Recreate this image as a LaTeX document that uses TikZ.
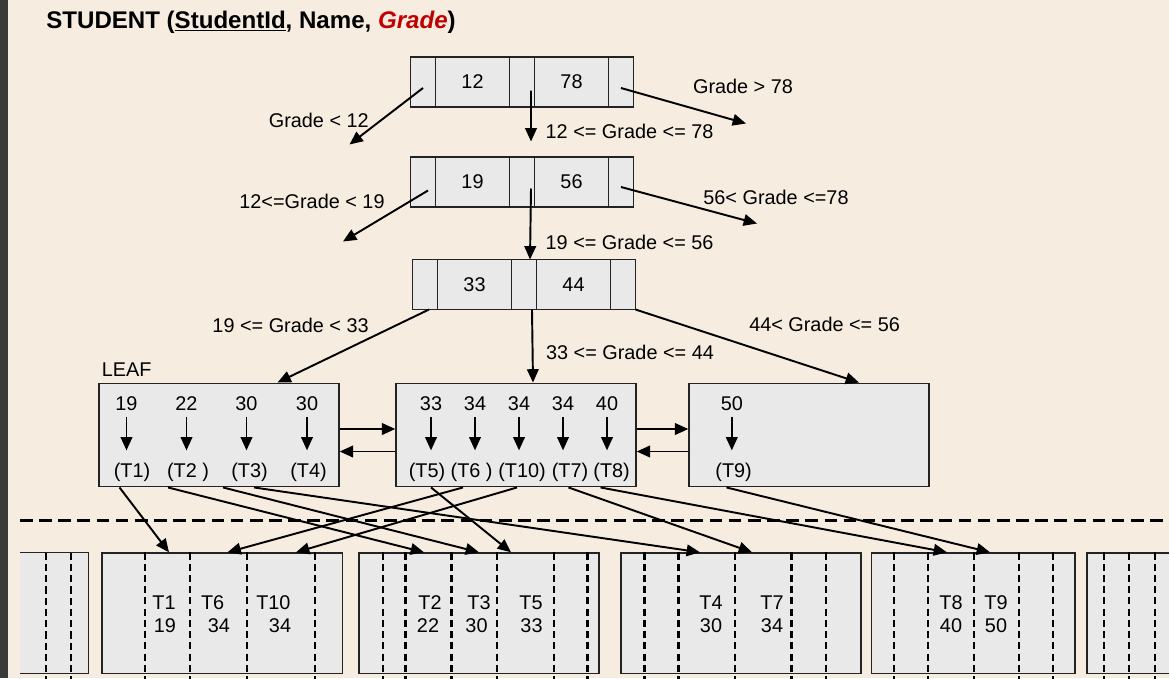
\documentclass[tikz,border=0pt]{standalone}
\usepackage{fontspec}
\setmainfont{Liberation Sans}
\usepackage{xcolor}
\usepackage{tikz}
\usetikzlibrary{arrows.meta, positioning, calc}

\definecolor{bgbeige}{RGB}{246,237,224}
\definecolor{boxgray}{RGB}{233,233,233}
\definecolor{edgegray}{RGB}{35,35,35}
\definecolor{stripgray}{RGB}{58,58,58}
\definecolor{gradered}{RGB}{192,0,0}

\begin{document}
\begin{tikzpicture}[
    font=\fontsize{11.3}{13.5}\selectfont,
    ptrcell/.style={
        rectangle,
        minimum width=0.5cm,    minimum height=1.0cm,
        draw=edgegray,
        line width=0.8pt,
        fill=boxgray,
        inner sep=0pt, outer sep=0pt
    },
    keycell/.style={ptrcell, minimum width=1.48cm},
    leafbox/.style={
        rectangle,
        minimum width=4.8cm,    minimum height=2.07cm,
        draw=edgegray,
        line width=0.8pt,
        fill=boxgray,
        inner sep=0pt
    },
    pagebox/.style={
        rectangle,
        minimum height=2.406cm,
        fill=boxgray,
        inner sep=0pt
    },
    keytext/.style={inner sep=0pt},
    treearrow/.style={line width=1.1pt, -{Triangle[length=7.6pt,width=6.6pt]}},
    leafarrow/.style={treearrow, shorten <=0.13cm, shorten >=0.25cm},
    slot/.style={line width=1.3pt, black, dash pattern=on 4.1pt off 2.3pt},
    separator/.style={line width=1.7pt, dash pattern=on 7.2pt off 3.7pt}
]

\useasboundingbox (0,0) rectangle (23.38,-13.56);
\fill[bgbeige] (0,0) rectangle (23.38,-13.56);
\fill[stripgray] (0,0) rectangle (0.16,-13.56);

\node[anchor=base west, inner sep=0pt, font=\fontsize{13.7}{16}\selectfont\bfseries] (title) at (0.92,-0.56)
    {STUDENT (\underline{StudentId}, Name, \textcolor{gradered}{\itshape Grade})};

% internal nodes
\node[ptrcell] (n1p0) at (8.46,-1.64) {};
\node[keycell, right=0pt of n1p0] (n1k1) {12};
\node[ptrcell, right=0pt of n1k1] (n1p1) {};
\node[keycell, right=0pt of n1p1] (n1k2) {78};
\node[ptrcell, right=0pt of n1k2] (n1p2) {};

\node[ptrcell] (n2p0) at (8.46,-3.64) {};
\node[keycell, right=0pt of n2p0] (n2k1) {19};
\node[ptrcell, right=0pt of n2k1] (n2p1) {};
\node[keycell, right=0pt of n2p1] (n2k2) {56};
\node[ptrcell, right=0pt of n2k2] (n2p2) {};

\node[ptrcell] (n3p0) at (8.50,-5.69) {};
\node[keycell, right=0pt of n3p0] (n3k1) {33};
\node[ptrcell, right=0pt of n3k1] (n3p1) {};
\node[keycell, right=0pt of n3p1] (n3k2) {44};
\node[ptrcell, right=0pt of n3k2] (n3p2) {};

\coordinate (lo1) at (6.99,-2.89);
\coordinate (mid1) at (10.62,-2.83);
\coordinate (hi1) at (14.92,-2.47);
\coordinate (lo2) at (6.86,-4.83);
\coordinate (hi2) at (15.14,-4.47);

\draw[treearrow] ([yshift=-0.12cm]n1p0.center) -- (lo1);
\draw[treearrow] ([xshift=0.18cm,yshift=-0.17cm]n1p1.center) -- (mid1);
\draw[treearrow] ([yshift=-0.12cm]n1p2.center) -- (hi1);

\node (cond11) at (6.376,-2.414) {Grade < 12};
\node (cond12) at (12.592,-2.634) {12 <= Grade <= 78};
\node (cond13) at (14.86,-1.734) {Grade > 78};

\draw[treearrow] ([xshift=0.1cm,yshift=-0.17cm]n2p0.center) -- (lo2);
\draw[treearrow] ([xshift=0.18cm,yshift=-0.13cm]n2p1.center) -- ([xshift=0.12cm]n3p1.north);
\draw[treearrow] ([yshift=-0.1cm]n2p2.center) -- (hi2);

\node (cond21) at (6.24,-4.034) {12<=Grade < 19};
\node (cond22) at (12.592,-4.854) {19 <= Grade <= 56};
\node (cond23) at (15.52,-3.94) {56< Grade <=78};

% leaves
\node[anchor=center] (leaflbl) at (2.532,-7.386) {LEAF};
\node[leafbox] (leafa) at (4.38,-8.70) {};
\node[leafbox] (leafb) at (10.32,-8.70) {};
\node[leafbox] (leafc) at (16.18,-8.70) {};

\draw[treearrow] ([xshift=0.08cm]n3p0.south) -- ([xshift=1.17cm]leafa.north);
\draw[treearrow] ([xshift=0.16cm]n3p1.south) -- ([xshift=0.34cm]leafb.north);
\draw[treearrow] (n3p2.south east) -- ([xshift=1.0cm]leafc.north);

\node (cond31) at (5.812,-6.50) {19 <= Grade < 33};
\node (cond32) at (12.60,-7.054) {33 <= Grade <= 44};
\node (cond33) at (16.492,-6.486) {44< Grade <= 56};

\node[keytext] (ka1) at (2.53,-8.07) {19};
\node[keytext] (ka2) at (3.73,-8.07) {22};
\node[keytext] (ka3) at (4.93,-8.07) {30};
\node[keytext] (ka4) at (6.14,-8.07) {30};
\node[keytext] (ta1) at (2.64,-9.45) {(T1)};
\node[keytext] (ta2) at (3.76,-9.45) {(T2 )};
\node[keytext] (ta3) at (4.99,-9.45) {(T3)};
\node[keytext] (ta4) at (6.17,-9.45) {(T4)};

\node[keytext] (kb1) at (8.62,-8.07) {33};
\node[keytext] (kb2) at (9.50,-8.07) {34};
\node[keytext] (kb3) at (10.38,-8.07) {34};
\node[keytext] (kb4) at (11.26,-8.07) {34};
\node[keytext] (kb5) at (12.14,-8.07) {40};
\node[keytext] (tb1) at (8.54,-9.45) {(T5)};
\node[keytext] (tb2) at (9.432,-9.45) {(T6 )};
\node[keytext] (tb3) at (10.44,-9.45) {(T10)};
\node[keytext] (tb4) at (11.40,-9.45) {(T7)};
\node[keytext] (tb5) at (12.232,-9.45) {(T8)};

\node[keytext] (kc1) at (14.636,-8.07) {50};
\node[keytext] (tc1) at (14.672,-9.45) {(T9)};

\draw[leafarrow] (ka1.south) -- (ka1.south |- ta1.north);
\draw[leafarrow] (ka2.south) -- (ka2.south |- ta2.north);
\draw[leafarrow] (ka3.south) -- (ka3.south |- ta3.north);
\draw[leafarrow] (ka4.south) -- (ka4.south |- ta4.north);
\draw[leafarrow] (kb1.south) -- (kb1.south |- tb1.north);
\draw[leafarrow] (kb2.south) -- (kb2.south |- tb2.north);
\draw[leafarrow] (kb3.south) -- (kb3.south |- tb3.north);
\draw[leafarrow] (kb4.south) -- (kb4.south |- tb4.north);
\draw[leafarrow] (kb5.south) -- (kb5.south |- tb5.north);
\draw[leafarrow] (kc1.south) -- (kc1.south |- tc1.north);

\draw[treearrow] ([yshift=0.12cm]leafa.east) -- ([yshift=0.12cm]leafb.west);
\draw[treearrow] ([yshift=-0.33cm]leafb.west) -- ([yshift=-0.33cm]leafa.east);
\draw[treearrow] ([yshift=0.12cm]leafb.east) -- ([yshift=0.12cm]leafc.west);
\draw[treearrow] ([yshift=-0.33cm]leafc.west) -- ([yshift=-0.33cm]leafb.east);

\draw[separator] (0.40,-10.40) -- (23.5,-10.40);

% data pages
\node[pagebox, minimum width=1.36cm] (pgz) at (1.08,-12.263) {};
\draw[edgegray, line width=0.8pt] (pgz.north west) -- (pgz.north east) -- (pgz.south east) -- (pgz.south west);
\node[pagebox, draw=edgegray, line width=0.8pt, minimum width=4.81cm] (pga) at (4.445,-12.263) {};
\node[pagebox, draw=edgegray, line width=0.8pt, minimum width=4.80cm] (pgb) at (9.58,-12.263) {};
\node[pagebox, draw=edgegray, line width=0.8pt, minimum width=4.80cm] (pgc) at (14.82,-12.263) {};
\node[pagebox, draw=edgegray, line width=0.8pt, minimum width=4.07cm] (pgd) at (19.465,-12.263) {};
\node[pagebox, draw=edgegray, line width=0.8pt, minimum width=4.80cm] (pge) at (24.14,-12.263) {};

\draw[slot] ([xshift=-0.16cm]pgz.north) -- ++(0,-2.7) ([xshift=0.34cm]pgz.north) -- ++(0,-2.7);
\draw[slot] ([xshift=-1.545cm]pga.north) -- ++(0,-2.7) ([xshift=-0.645cm]pga.north) -- ++(0,-2.7)
    ([xshift=0.495cm]pga.north) -- ++(0,-2.7) ([xshift=1.855cm]pga.north) -- ++(0,-2.7);
\draw[slot] ([xshift=-1.92cm]pgb.north) -- ++(0,-2.7) ([xshift=-1.468cm]pgb.north) -- ++(0,-2.7)
    ([xshift=-0.548cm]pgb.north) -- ++(0,-2.7) ([xshift=0.354cm]pgb.north) -- ++(0,-2.7)
    ([xshift=1.496cm]pgb.north) -- ++(0,-2.7) ([xshift=2.17cm]pgb.north) -- ++(0,-2.7);
\draw[slot] ([xshift=-1.928cm]pgc.north) -- ++(0,-2.7) ([xshift=-1.252cm]pgc.north) -- ++(0,-2.7)
    ([xshift=-0.124cm]pgc.north) -- ++(0,-2.7) ([xshift=1.01cm]pgc.north) -- ++(0,-2.7)
    ([xshift=1.70cm]pgc.north) -- ++(0,-2.7);
\draw[slot] ([xshift=-1.591cm]pgd.north) -- ++(0,-2.7) ([xshift=-0.905cm]pgd.north) -- ++(0,-2.7)
    ([xshift=0.009cm]pgd.north) -- ++(0,-2.7) ([xshift=0.911cm]pgd.north) -- ++(0,-2.7)
    ([xshift=1.595cm]pgd.north) -- ++(0,-2.7);
\draw[slot] ([xshift=-2.06cm]pge.north) -- ++(0,-2.7) ([xshift=-1.56cm]pge.north) -- ++(0,-2.7)
    ([xshift=-1.044cm]pge.north) -- ++(0,-2.7);

\node (rT1) at (3.28,-12.054) {T1};
\node (rK1) at (3.30,-12.52) {19};
\node (rT6) at (4.252,-12.054) {T6};
\node (rK6) at (4.38,-12.52) {34};
\node (rT10) at (5.468,-12.054) {T10};
\node (rK10) at (5.60,-12.52) {34};
\node (rT2) at (8.60,-12.054) {T2};
\node (rK2) at (8.56,-12.52) {22};
\node (rT3) at (9.58,-12.054) {T3};
\node (rK3) at (9.53,-12.52) {30};
\node (rT5) at (10.62,-12.054) {T5};
\node (rK5) at (10.63,-12.52) {33};
\node (rT4) at (14.22,-12.054) {T4};
\node (rK4) at (14.22,-12.52) {30};
\node (rT7) at (15.44,-12.054) {T7};
\node (rK7) at (15.44,-12.52) {34};
\node (rT8) at (19.02,-12.054) {T8};
\node (rK8) at (19.02,-12.52) {40};
\node (rT9) at (19.92,-12.054) {T9};
\node (rK9) at (19.92,-12.52) {50};

% leaf entries to records
\draw[treearrow] ([xshift=-1.99cm]leafa.south) -- ([xshift=-1.065cm]pga.north);
\draw[treearrow] ([xshift=-1.02cm]leafa.south) -- ([xshift=-1.10cm]pgb.north);
\draw[treearrow] ([xshift=0.08cm]leafa.south) -- (pgb.north);
\draw[treearrow] ([xshift=0.70cm]leafa.south) -- ([xshift=-0.82cm]pgc.north);
\draw[treearrow] ([xshift=-1.70cm]leafb.south) -- ([xshift=0.64cm]pgb.north);
\draw[treearrow] ([xshift=-1.06cm]leafb.south) -- ([xshift=0.105cm]pga.north);
\draw[treearrow] ([xshift=0.02cm]leafb.south) -- ([xshift=1.475cm]pga.north);
\draw[treearrow] ([xshift=1.05cm]leafb.south) -- ([xshift=0.22cm]pgc.north);
\draw[treearrow] ([xshift=1.69cm]leafb.south) -- ([xshift=-0.525cm]pgd.north);
\draw[treearrow] ([xshift=-1.65cm]leafc.south) -- ([xshift=0.335cm]pgd.north);

\end{tikzpicture}
\end{document}
